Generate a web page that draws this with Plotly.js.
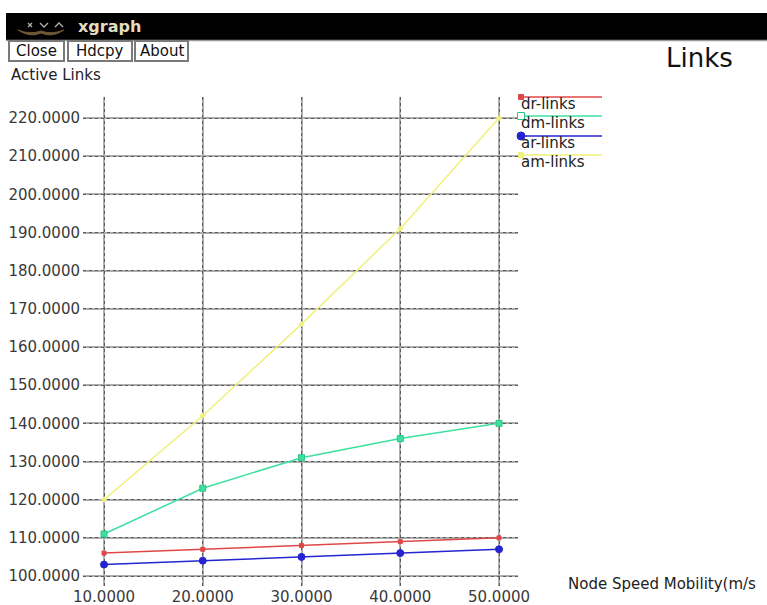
<!DOCTYPE html>
<html>
<head>
<meta charset="utf-8">
<script src="https://cdn.plot.ly/plotly-3.0.1.min.js"></script>
<style>
html,body{margin:0;padding:0;background:#fff;}
#chart{width:767px;height:605px;}
</style>
</head>
<body>
<div id="chart"></div>
<script>
// ---- data ----
const speeds = [10, 20, 30, 40, 50];
const drLinks = [106, 107, 108, 109, 110];
const dmLinks = [111, 123, 131, 136, 140];
const arLinks = [103, 104, 105, 106, 107];
const amLinks = [120, 142, 166, 191, 220];
const seriesNames = ['dr-links', 'dm-links', 'ar-links', 'am-links'];
const xTickVals = [10, 20, 30, 40, 50];
const yTickVals = [100, 110, 120, 130, 140, 150, 160, 170, 180, 190, 200, 210, 220];
const buttonLabels = ['Close', 'Hdcpy', 'About'];

// ---- styles ----
const colors = ['#e04848', '#3ee0a0', '#2424d0', '#f0f07a'];
const markers = [
  {symbol: 'square', size: 4},
  {symbol: 'square', size: 6},
  {symbol: 'circle', size: 7},
  {symbol: 'diamond', size: 4}
];
const seriesData = [drLinks, dmLinks, arLinks, amLinks];

// plot area in pixels
const L = 83, R = 518, T = 97, B = 586;
const px = x => (x - L) / (R - L);
const py = y => (B - y) / (B - T);

const traces = seriesData.map((ys, i) => ({
  x: speeds, y: ys, type: 'scatter', mode: 'lines+markers',
  name: seriesNames[i],
  line: {color: colors[i], width: 1.5},
  marker: {color: colors[i], symbol: markers[i].symbol, size: markers[i].size,
           line: {color: i === 1 ? '#2cc888' : colors[i], width: 1}},
  showlegend: false, hoverinfo: 'skip'
}));
// empty trace to activate the dotted-grid overlay subplot
traces.unshift({x: [], y: [], xaxis: 'x2', yaxis: 'y2', showlegend: false, type: 'scatter'});

const shapes = [];
const annotations = [];

// window title bar
shapes.push({type: 'rect', xref: 'paper', yref: 'paper', x0: px(6), x1: px(767), y0: py(40), y1: py(13),
             fillcolor: '#000', line: {width: 0}, layer: 'above'});
shapes.push({type: 'line', xref: 'paper', yref: 'paper', x0: px(6), x1: px(767), y0: py(40.5), y1: py(40.5),
             line: {color: '#9a9a9a', width: 1.5}});
shapes.push({type: 'path', xref: 'paper', yref: 'paper',
             path: `M ${px(18)} ${py(30)} Q ${px(30)} ${py(38)} ${px(41)} ${py(33)} Q ${px(52)} ${py(38)} ${px(64)} ${py(30)} ` +
                   `Q ${px(52)} ${py(35)} ${px(41)} ${py(31)} Q ${px(30)} ${py(35)} ${px(18)} ${py(30)} Z`,
             fillcolor: '#6e5836', line: {color: '#6e5836', width: 1}, layer: 'above'});
// window controls: x, v, ^
shapes.push({type: 'path', xref: 'paper', yref: 'paper',
             path: `M ${px(28)} ${py(23)} L ${px(32)} ${py(27)} M ${px(32)} ${py(23)} L ${px(28)} ${py(27)}`,
             line: {color: '#b0b0b0', width: 1.3}, layer: 'above'});
shapes.push({type: 'path', xref: 'paper', yref: 'paper',
             path: `M ${px(40)} ${py(23)} L ${px(44)} ${py(27)} L ${px(48)} ${py(23)}`,
             line: {color: '#b0b0b0', width: 1.3}, layer: 'above'});
shapes.push({type: 'path', xref: 'paper', yref: 'paper',
             path: `M ${px(55)} ${py(27)} L ${px(59)} ${py(23)} L ${px(63)} ${py(27)}`,
             line: {color: '#b0b0b0', width: 1.3}, layer: 'above'});
annotations.push({xref: 'paper', yref: 'paper', x: px(76), y: py(26), text: '<b>xgraph</b>', showarrow: false,
                  xanchor: 'left', yanchor: 'middle', font: {family: 'DejaVu Sans', size: 16, color: '#e2dcc0'}});

// buttons
const btnX = [[9, 64], [68, 132], [135, 188]];
buttonLabels.forEach((b, i) => {
  shapes.push({type: 'rect', xref: 'paper', yref: 'paper', x0: px(btnX[i][0]), x1: px(btnX[i][1]),
               y0: py(61), y1: py(41), fillcolor: '#fff', line: {color: '#7a7a7a', width: 2}});
  annotations.push({xref: 'paper', yref: 'paper', x: px((btnX[i][0] + btnX[i][1]) / 2), y: py(51), text: b,
                    showarrow: false, xanchor: 'center', yanchor: 'middle',
                    font: {family: 'DejaVu Sans', size: 15, color: '#111'}});
});

// titles
annotations.push({xref: 'paper', yref: 'paper', x: px(664), y: py(58), text: 'Links', showarrow: false,
                  xanchor: 'left', yanchor: 'middle', font: {family: 'DejaVu Sans', size: 26, color: '#111'}});
annotations.push({xref: 'paper', yref: 'paper', x: px(9), y: py(75), text: 'Active Links', showarrow: false,
                  xanchor: 'left', yanchor: 'middle', font: {family: 'DejaVu Sans', size: 15, color: '#222'}});
annotations.push({xref: 'paper', yref: 'paper', x: px(566), y: py(584), text: 'Node Speed Mobility(m/s', showarrow: false,
                  xanchor: 'left', yanchor: 'middle', font: {family: 'DejaVu Sans', size: 15, color: '#222'}});

// legend (xgraph style: line above label)
const legY = [97, 116, 136, 155];
seriesNames.forEach((n, i) => {
  shapes.push({type: 'line', xref: 'paper', yref: 'paper', x0: px(520), x1: px(602), y0: py(legY[i]), y1: py(legY[i]),
               line: {color: colors[i], width: 1.5}});
  const s = markers[i].size / 2 + 0.5;
  shapes.push({type: i === 2 ? 'circle' : 'rect', xref: 'paper', yref: 'paper',
               x0: px(521 - s), x1: px(521 + s), y0: py(legY[i] + s), y1: py(legY[i] - s),
               fillcolor: i === 1 ? '#fff' : colors[i], line: {color: i === 1 ? '#2cc888' : colors[i], width: 1}});
  annotations.push({xref: 'paper', yref: 'paper', x: px(519), y: py(legY[i] + 7), text: n, showarrow: false,
                    xanchor: 'left', yanchor: 'middle', font: {family: 'DejaVu Sans', size: 15, color: '#222'}});
});

const xRange = [10 - (104 - L) / 9.875, 10 + (R - 104) / 9.875];
const yPer = (576 - 118) / 120;
const yRange = [100 - (B - 576) / yPer, 220 + (118 - T) / yPer];

const tickFont = {family: 'DejaVu Sans', size: 15, color: '#3a3a3a'};
const layout = {
  width: 767, height: 605,
  margin: {l: L, r: 767 - R, t: T, b: 605 - B, pad: 0},
  paper_bgcolor: '#fff', plot_bgcolor: '#fff',
  showlegend: false,
  xaxis: {range: xRange, tickvals: xTickVals, ticktext: xTickVals.map(v => v.toFixed(4)),
          showgrid: true, gridcolor: '#adadad', gridwidth: 2, zeroline: false, showline: false,
          ticks: '', tickfont: tickFont, fixedrange: true},
  yaxis: {range: yRange, tickvals: yTickVals, ticktext: yTickVals.map(v => v.toFixed(4)),
          showgrid: true, gridcolor: '#adadad', gridwidth: 2, zeroline: false, showline: false,
          ticks: '', tickfont: tickFont, ticklabelstandoff: 2, fixedrange: true},
  xaxis2: {range: xRange, overlaying: 'x', anchor: 'y2', tickvals: xTickVals, showticklabels: false,
           showgrid: true, gridcolor: '#5a5a5a', gridwidth: 1, griddash: 'dot', zeroline: false, ticks: ''},
  yaxis2: {range: yRange, overlaying: 'y', anchor: 'x2', tickvals: yTickVals, showticklabels: false,
           showgrid: true, gridcolor: '#5a5a5a', gridwidth: 1, griddash: 'dot', zeroline: false, ticks: ''},
  shapes: shapes,
  annotations: annotations
};

Plotly.newPlot('chart', traces, layout, {displayModeBar: false, staticPlot: true});
</script>
</body>
</html>
